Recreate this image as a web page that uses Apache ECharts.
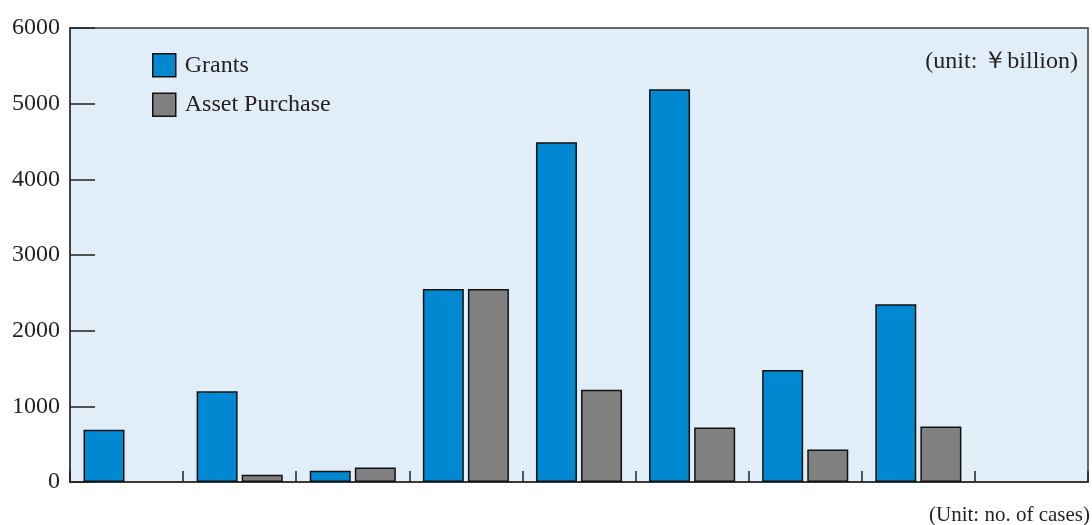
<!DOCTYPE html>
<html>
<head>
<meta charset="utf-8">
<script src="https://cdn.jsdelivr.net/npm/echarts@6/dist/echarts.min.js"></script>
<style>html,body{margin:0;padding:0;background:#fff}#c{width:1092px;height:525px}</style>
</head>
<body>
<div id="c"></div>
<script>
const categories = ['1', '2', '3', '4', '5', '6', '7', '8', '9'];
const grants = [690, 1200, 150, 2550, 4490, 5190, 1480, 2350, null];
const assetPurchase = [null, 95, 190, 2550, 1220, 720, 430, 735, null];
const yTicks = [0, 1000, 2000, 3000, 4000, 5000, 6000];

const FONT = '"Liberation Serif", "Times New Roman", serif';
const TXT = '#231F20';
const LINE = '#3a3a3a';

const chart = echarts.init(document.getElementById('c'), null, {renderer: 'canvas'});
chart.setOption({
  animation: false,
  grid: {
    left: 70, right: 4, top: 28, bottom: 43,
    show: true, backgroundColor: '#E1EEF8', borderColor: LINE, borderWidth: 1.5
  },
  legend: {
    left: 152, top: 53, orient: 'vertical', padding: 0,
    itemWidth: 23, itemHeight: 23, itemGap: 15,
    icon: 'rect',
    textStyle: {fontFamily: FONT, fontSize: 24, color: TXT, padding: [0, 0, 0, 4]},
    itemStyle: {borderColor: '#111', borderWidth: 1.5},
    data: ['Grants', 'Asset Purchase']
  },
  xAxis: {
    type: 'category',
    data: categories,
    boundaryGap: true,
    axisLine: {lineStyle: {color: LINE, width: 2}},
    axisTick: {show: true, inside: true, length: 11, lineStyle: {color: '#222', width: 1.5}},
    axisLabel: {show: false}
  },
  yAxis: {
    type: 'value',
    min: yTicks[0], max: yTicks[yTicks.length - 1], interval: 1000,
    axisLine: {show: true, lineStyle: {color: LINE, width: 1.5}},
    axisTick: {show: true, inside: true, length: 25, lineStyle: {color: '#222', width: 1.5}},
    splitLine: {show: false},
    axisLabel: {fontFamily: FONT, fontSize: 24, color: TXT, margin: 10, formatter: v => String(v)}
  },
  series: [
    {
      name: 'Grants', type: 'bar', data: grants,
      barWidth: 41, barGap: '10%',
      itemStyle: {color: '#0088D1', borderColor: '#111', borderWidth: 1.5}
    },
    {
      name: 'Asset Purchase', type: 'bar', data: assetPurchase,
      barWidth: 41,
      itemStyle: {color: '#808080', borderColor: '#111', borderWidth: 1.5}
    }
  ],
  graphic: [
    {
      type: 'text', right: 14, top: 50,
      style: {text: '(unit: \uFFE5billion)', fontFamily: FONT, fontSize: 24, fill: TXT}
    },
    {
      type: 'text', right: 2, top: 505,
      style: {text: '(Unit: no. of cases)', fontFamily: FONT, fontSize: 21, fill: TXT}
    }
  ]
});
</script>
</body>
</html>
